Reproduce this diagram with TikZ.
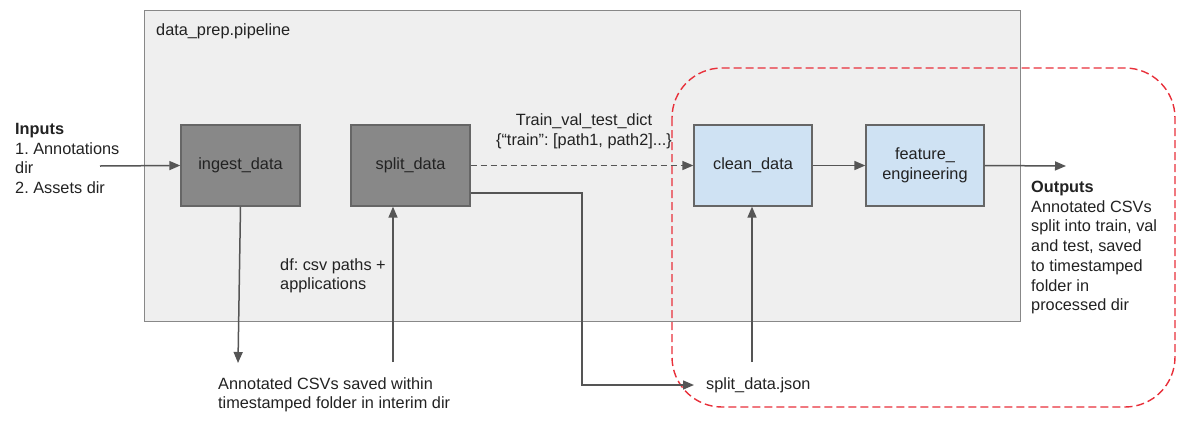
\documentclass[tikz,border=0pt]{standalone}
\usepackage{fontspec}
\setmainfont{Liberation Sans}
\frenchspacing
\usetikzlibrary{arrows.meta}
\definecolor{pipefill}{HTML}{EFEFEF}
\definecolor{pipeline}{HTML}{888888}
\definecolor{darkbox}{HTML}{888888}
\definecolor{darkedge}{HTML}{666666}
\definecolor{bluebox}{HTML}{CFE2F3}
\definecolor{arrowc}{HTML}{555555}
\definecolor{redc}{HTML}{E8303A}
\definecolor{txt}{HTML}{222222}
\tikzset{
  txtstyle/.style={font=\fontsize{16.3}{19.7}\selectfont, text=txt},
  procdark/.style={draw=darkedge, fill=darkbox, line width=1.3pt, minimum width=119pt, minimum height=81pt, inner sep=0pt, align=center, txtstyle},
  procblue/.style={draw=darkedge, fill=bluebox, line width=1.3pt, minimum width=118pt, minimum height=81pt, inner sep=0pt, align=center, txtstyle},
  note/.style={txtstyle, align=left, inner sep=0pt},
  conn/.style={draw=arrowc, line width=1.5pt, -{Triangle[length=11pt,width=9pt]}},
}
\begin{document}
\begin{tikzpicture}[x=1pt,y=-1pt]
\useasboundingbox (0,0) rectangle (1181,437);
% pipeline container
\node[draw=pipeline, fill=pipefill, line width=1.3pt, minimum width=876pt, minimum height=311pt, inner sep=0pt, anchor=north west] (pipe) at (143.5,10) {};
\node[note, anchor=west] (pipelabel) at (156,31) {data\_prep.pipeline};
% boxes
\node[procdark] (ingest) at (240.5,165.5) {ingest\_data};
\node[procdark] (split) at (410.5,165.5) {split\_data};
\node[procblue] (clean) at (753,165.5) {clean\_data};
\node[procblue] (feat) at (925,165.5) {feature\_\\engineering};
% red dashed region
\draw[redc, line width=1.4pt, dash pattern=on 8pt off 4pt, rounded corners=50pt] (672,68) rectangle (1175,407);
% texts
\node[note, anchor=north west] (inputs) at (15,123) {\textbf{Inputs}\\1. Annotations\\dir\\2. Assets dir};
\coordinate (inpt) at (100,166);
\node[note, anchor=north west] (interim) at (218,377) {Annotated CSVs saved within\\timestamped folder in interim dir};
\coordinate (interimtop) at (238,363);
\coordinate (interimsrc) at (393,362);
\node[note, anchor=north west] (df) at (280,258) {df: csv paths +\\applications};
\node[note, anchor=west] (json) at (706,385) {split\_data.json};
\coordinate (jsonsrc) at (752,362);
\node[note, anchor=north west] (outputs) at (1031,181) {\textbf{Outputs}\\Annotated CSVs\\split into train, val\\and test, saved\\to timestamped\\folder in\\processed dir};
\coordinate (outend) at (1066,166);
\node[txtstyle, align=center, inner sep=0pt] (dict) at (584,131) {Train\_val\_test\_dict\\\{“train”: [path1, path2]...\}};
% connectors
\draw[conn] (inpt) -- (ingest.west);
\draw[conn] (ingest.south) -- (interimtop);
\draw[conn] (interimsrc) -- (split.south -| interimsrc);
\draw[conn, dash pattern=on 6pt off 4pt] (split.east) -- (clean.west);
\draw[conn] ([yshift=-27.5pt]split.east) -| (582,385) -- ([xshift=-12pt]json.west);
\draw[conn] (jsonsrc) -- (clean.south -| jsonsrc);
\draw[conn] (clean.east) -- (feat.west);
\draw[conn] (feat.east) -- (outend);
\end{tikzpicture}
\end{document}
